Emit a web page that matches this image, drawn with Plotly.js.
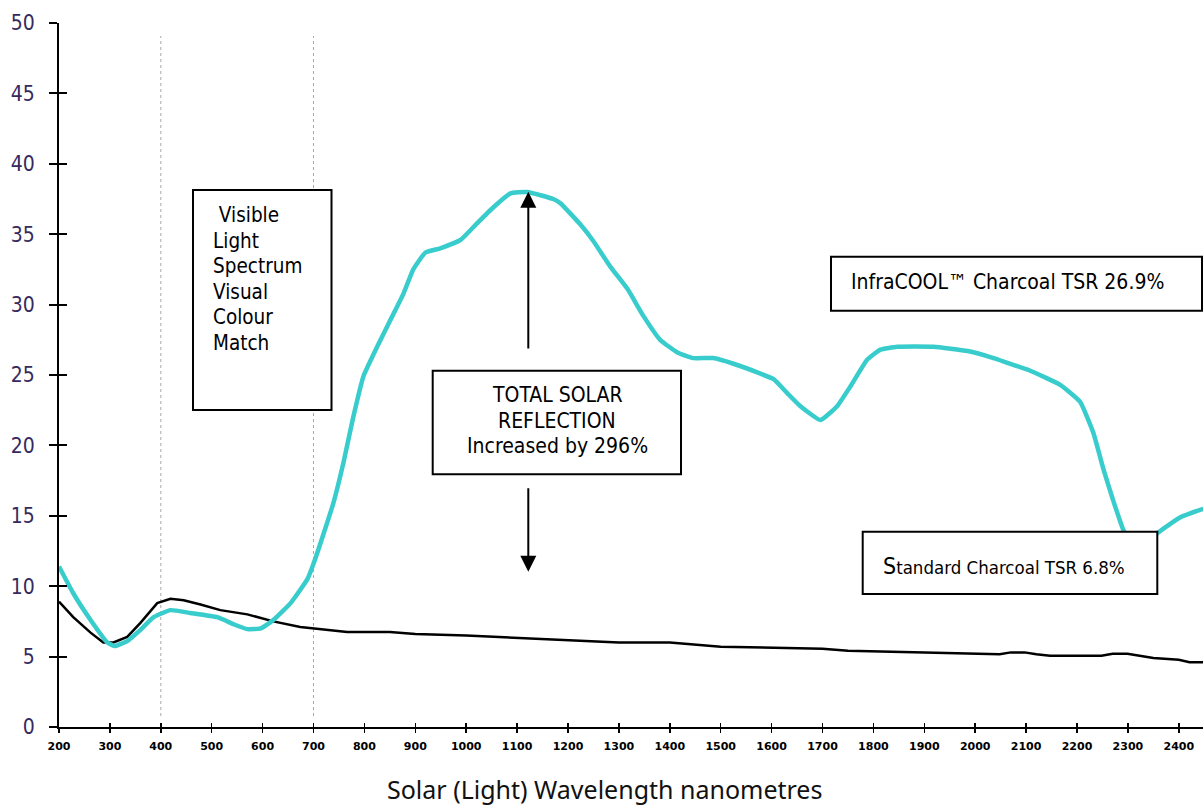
<!DOCTYPE html>
<html><head><meta charset="utf-8">
<script src="https://cdn.plot.ly/plotly-3.0.1.min.js"></script>
<style>html,body{margin:0;padding:0;background:#fff}#chart{width:1203px;height:805px}</style>
</head><body><div id="chart"></div>
<script>
// ---- data ----
const infraWavelength = [200,228,262,295,310,334,360,386,419,458,511,543,570,596,621,655,688,704,739,759,778,798,825,851,877,896,920,949,989,1022,1053,1087,1120,1171,1185,1224,1250,1283,1317,1348,1381,1415,1446,1485,1525,1578,1604,1631,1656,1696,1729,1755,1788,1814,1847,1918,1985,2036,2108,2167,2206,2232,2252,2271,2291,2310,2340,2359,2403,2448];
const infraReflectance = [11.4,9.5,7.6,6.0,5.75,6.1,6.9,7.8,8.3,8.1,7.8,7.3,6.95,7.0,7.6,8.8,10.5,12.0,15.9,18.8,22.0,24.9,27.0,28.9,30.8,32.5,33.7,34.0,34.6,35.8,36.9,37.9,38.0,37.5,37.2,35.7,34.5,32.7,31.1,29.2,27.5,26.6,26.2,26.2,25.8,25.1,24.7,23.7,22.8,21.8,22.8,24.2,26.1,26.8,27.0,27.0,26.7,26.2,25.3,24.3,23.1,20.9,18.3,16.1,14.0,12.8,13.0,13.8,14.9,15.5];
const standardWavelength = [200,228,262,287,307,334,360,393,419,445,478,517,570,621,674,727,766,850,900,1000,1100,1200,1300,1400,1450,1500,1700,1750,1900,2048,2070,2097,2120,2147,2248,2270,2299,2320,2350,2400,2421,2448];
const standardReflectance = [8.9,7.8,6.7,6.0,6.0,6.4,7.4,8.8,9.1,9.0,8.7,8.3,8.0,7.5,7.1,6.9,6.75,6.75,6.6,6.5,6.35,6.2,6.0,6.0,5.85,5.7,5.56,5.42,5.3,5.16,5.3,5.3,5.16,5.06,5.06,5.2,5.2,5.06,4.9,4.78,4.6,4.6];
const xTickValues = [200,300,400,500,600,700,800,900,1000,1100,1200,1300,1400,1500,1600,1700,1800,1900,2000,2100,2200,2300,2400];
const yTickValues = [0,5,10,15,20,25,30,35,40,45,50];
const visibleMarkers = [400,700];
const visibleLines = ["\u00a0Visible","Light","Spectrum","Visual","Colour","Match"];
const tsrLines = ["TOTAL SOLAR","REFLECTION","Increased by 296%"];
const infraLabel = "InfraCOOL\u2122 Charcoal TSR 26.9%";
const standardLabel = ["S","tandard Charcoal TSR 6.8%"];
const xTitle = "Solar (Light) Wavelength nanometres";

// ---- layout helpers (pixel placement of boxes) ----
const L = 59, T = 23, W = 1144, H = 704, XMIN = 200, XMAX = 2447.5, YMAX = 50;
const px2x = px => XMIN + (px - L) / W * (XMAX - XMIN);
const py2y = py => (T + H - py) / H * YMAX;
const boxFont = 'DejaVu Sans Condensed, DejaVu Sans, sans-serif';

const traces = [
  {x: standardWavelength, y: standardReflectance, mode: 'lines', line: {color: '#000', width: 2.5}, xaxis: 'x', yaxis: 'y', hoverinfo: 'skip'},
  {x: infraWavelength, y: infraReflectance, mode: 'lines', line: {color: '#38CCCC', width: 4.5, shape: 'spline', smoothing: 0.4}, xaxis: 'x2', yaxis: 'y2', hoverinfo: 'skip'}
];

const shapes = [];
visibleMarkers.forEach(v => shapes.push({type: 'line', xref: 'x', yref: 'y', x0: v, x1: v, y0: py2y(716), y1: py2y(36), line: {color: '#a8a8a8', width: 1, dash: 'dot'}, layer: 'below'}));
function rect(x0, x1, y0, y1) {
  shapes.push({type: 'rect', xref: 'x', yref: 'y', x0: px2x(x0), x1: px2x(x1), y0: py2y(y1), y1: py2y(y0), line: {color: '#000', width: 2}, fillcolor: '#fff', layer: 'above'});
}
rect(193, 331.5, 190, 410);
rect(432.7, 681, 370.7, 474.3);
rect(831, 1202, 256.7, 310.7);
rect(862.7, 1157.3, 531.7, 594);

const annotations = [];
visibleLines.forEach((t, i) => annotations.push({xref: 'x', yref: 'y', x: px2x(211), y: py2y(215 + i * 25.6), xanchor: 'left', yanchor: 'middle', text: t, showarrow: false, font: {family: boxFont, size: 20.5, color: '#000'}}));
tsrLines.forEach((t, i) => annotations.push({xref: 'x', yref: 'y', x: px2x(557), y: py2y(395 + i * 25.7), xanchor: 'center', yanchor: 'middle', text: t, showarrow: false, font: {family: boxFont, size: 21, color: '#000'}}));
annotations.push({xref: 'x', yref: 'y', x: px2x(849), y: py2y(282), xanchor: 'left', yanchor: 'middle', text: infraLabel, showarrow: false, font: {family: boxFont, size: 21, color: '#000'}});
annotations.push({xref: 'x', yref: 'y', x: px2x(881), y: py2y(566), xanchor: 'left', yanchor: 'middle', text: '<span style="font-size:23px">' + standardLabel[0] + '</span>' + standardLabel[1], showarrow: false, font: {family: boxFont, size: 18.5, color: '#000'}});
// arrows
const arrowX = px2x(528.3);
annotations.push({xref: 'x', yref: 'y', axref: 'x', ayref: 'y', x: arrowX, y: py2y(191.7), ax: arrowX, ay: py2y(350), text: '', showarrow: true, arrowhead: 2, arrowsize: 1.6, arrowwidth: 2, arrowcolor: '#000', standoff: 0});
annotations.push({xref: 'x', yref: 'y', axref: 'x', ayref: 'y', x: arrowX, y: py2y(571.7), ax: arrowX, ay: py2y(486.7), text: '', showarrow: true, arrowhead: 2, arrowsize: 1.6, arrowwidth: 2, arrowcolor: '#000', standoff: 0});
// x-axis title
annotations.push({xref: 'paper', yref: 'paper', x: (604.5 - L) / W, y: (T + H - 789) / H, xanchor: 'center', yanchor: 'middle', text: xTitle, showarrow: false, font: {family: 'Noto Sans, Open Sans, sans-serif', size: 25, color: '#111'}});

const layout = {
  width: 1203, height: 805,
  margin: {l: L, r: 0, t: T, b: 805 - T - H, pad: 0},
  paper_bgcolor: '#fff', plot_bgcolor: '#fff',
  showlegend: false,
  xaxis: {range: [XMIN, XMAX], tickvals: xTickValues, ticktext: xTickValues.map(String), ticks: 'outside', ticklen: 4, tickwidth: 1.5, tickcolor: '#000',
    showline: true, linecolor: '#000', linewidth: 2, showgrid: false, zeroline: false, ticklabelstandoff: 4,
    tickfont: {family: 'DejaVu Sans, sans-serif', size: 11, color: '#000', weight: 'bold'}},
  xaxis2: {overlaying: 'x', anchor: 'y2', side: 'bottom', range: [XMIN, XMAX], tickvals: xTickValues, ticks: 'inside', ticklen: 4, tickwidth: 1.5, tickcolor: '#000',
    showticklabels: false, showline: false, showgrid: false, zeroline: false},
  yaxis: {range: [0, YMAX], tickvals: yTickValues, ticktext: yTickValues.map(String), ticks: 'outside', ticklen: 8, tickwidth: 2, tickcolor: '#000',
    showline: true, linecolor: '#000', linewidth: 2, showgrid: false, zeroline: false, ticklabelstandoff: 10,
    tickfont: {family: 'DejaVu Sans Condensed, DejaVu Sans, sans-serif', size: 21, color: '#352a5e'}},
  yaxis2: {overlaying: 'y', anchor: 'x2', side: 'left', range: [0, YMAX], tickvals: yTickValues, ticks: 'inside', ticklen: 8, tickwidth: 2, tickcolor: '#000',
    showticklabels: false, showline: false, showgrid: false, zeroline: false},
  shapes: shapes,
  annotations: annotations
};
Plotly.newPlot('chart', traces, layout, {displayModeBar: false, staticPlot: true});
</script></body></html>
